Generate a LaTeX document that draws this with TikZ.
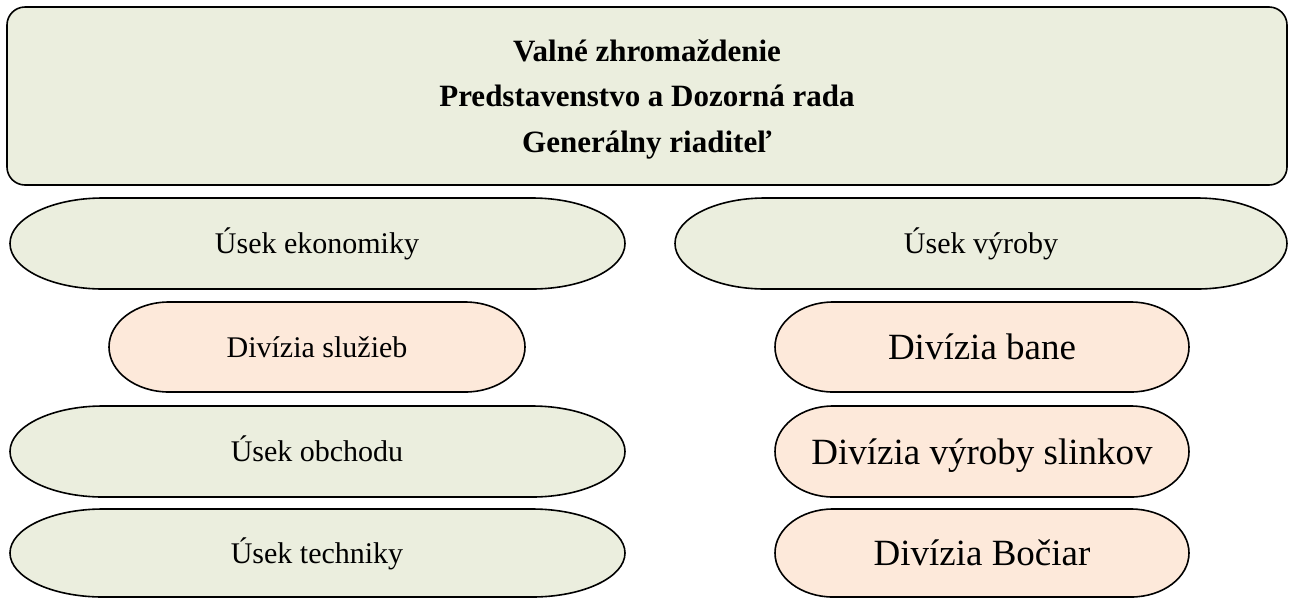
\documentclass[tikz,border=0pt]{standalone}
\usepackage{fontspec}
\setmainfont{Liberation Serif}
\definecolor{boxgreen}{HTML}{EBEEDE}
\definecolor{boxpink}{HTML}{FDE9DA}
\newcommand\stadshape[6]{%
  \draw[#6] ({#1+#5},#2) -- ({#3-#5},#2)
    arc[start angle=90,end angle=-90,x radius=#5pt,y radius={(#4-#2)/2*1pt}]
    -- ({#1+#5},#4)
    arc[start angle=270,end angle=90,x radius=#5pt,y radius={(#4-#2)/2*1pt}]
    -- cycle;}
\tikzset{
  greenbox/.style={draw=black,line width=1.6pt,fill=boxgreen},
  pinkbox/.style={draw=black,line width=1.6pt,fill=boxpink},
  lbl/.style={inner sep=0pt,anchor=base},
  smalltxt/.style={font=\fontsize{30}{36}\selectfont},
  bigtxt/.style={font=\fontsize{37}{44}\selectfont},
  toptxt/.style={inner sep=0pt,anchor=base,font=\bfseries\fontsize{31}{45}\selectfont}
}
\begin{document}
\begin{tikzpicture}[x=1pt,y=-1pt]
\useasboundingbox (0,0) rectangle (1291,598);
% top box
\node[draw=black,line width=1.6pt,fill=boxgreen,rounded corners=18pt,
      minimum width=1280pt,minimum height=178pt,inner sep=0pt] (top) at (647,96) {};
\node[toptxt] (t1) at (647,61) {Valné zhromaždenie};
\node[toptxt] (t2) at (647,106.5) {Predstavenstvo a Dozorná rada};
\node[toptxt] (t3) at (647,152) {Generálny riaditeľ};
% left column
\stadshape{10}{198}{625}{289}{93}{greenbox}
\node[lbl,smalltxt] (ekon) at (317,253.5) {Úsek ekonomiky};
\stadshape{109}{302}{525}{392}{60}{pinkbox}
\node[lbl,smalltxt] (sluz) at (317,357) {Divízia služieb};
\stadshape{10}{406}{625}{497}{93}{greenbox}
\node[lbl,smalltxt] (obch) at (317,461.5) {Úsek obchodu};
\stadshape{10}{509}{625}{597}{93}{greenbox}
\node[lbl,smalltxt] (tech) at (317,563) {Úsek techniky};
% right column
\stadshape{675}{198}{1287}{289}{90}{greenbox}
\node[lbl,smalltxt] (vyr) at (981,253.5) {Úsek výroby};
\stadshape{775}{302}{1189}{392}{58}{pinkbox}
\node[lbl,bigtxt] (bane) at (982,359.5) {Divízia bane};
\stadshape{775}{406}{1189}{497}{58}{pinkbox}
\node[lbl,bigtxt] (slink) at (982,464) {Divízia výroby slinkov};
\stadshape{775}{509}{1189}{597}{58}{pinkbox}
\node[lbl,bigtxt] (bociar) at (982,565.5) {Divízia Bočiar};
\end{tikzpicture}
\end{document}
